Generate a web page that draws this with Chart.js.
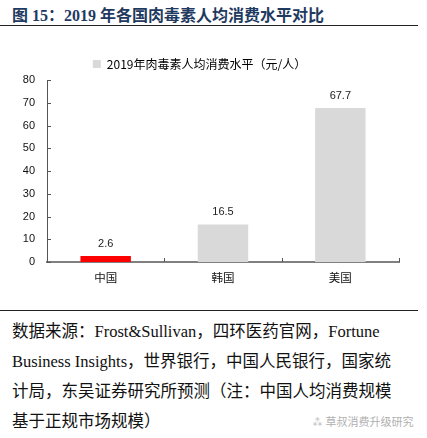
<!DOCTYPE html>
<html>
<head>
<meta charset="utf-8">
<script src="https://cdn.jsdelivr.net/npm/chart.js@4"></script>
<style>
  body { margin: 0; background: #fff; width: 427px; height: 438px; position: relative; overflow: hidden; }
  #title { position: absolute; left: 12px; top: 2px; font: bold 16px "Liberation Serif", "Noto Sans CJK SC", serif; color: #1f3a60; white-space: nowrap; }
  .rule { position: absolute; left: 0; width: 418px; height: 0; border-top: 1.5px solid #222; }
  #box { position: absolute; left: 0; top: 40px; width: 420px; height: 250px; }
  #source { position: absolute; left: 12px; top: 317px; font: 16.5px "Liberation Serif", "Noto Sans CJK SC", serif; line-height: 30px; color: #111; white-space: nowrap; }
  #mark { position: absolute; left: 312px; top: 413px; font: 11px "Noto Sans CJK SC", sans-serif; color: #b0b0b0; }
</style>
</head>
<body>
<div id="title">图 15：2019 年各国肉毒素人均消费水平对比</div>
<div class="rule" style="top:25px"></div>
<div id="box"><canvas id="salesChart"></canvas></div>
<div class="rule" style="top:310px"></div>
<div id="source">数据来源：Frost&amp;Sullivan，四环医药官网，Fortune<br>Business Insights，世界银行，中国人民银行，国家统<br>计局，东吴证券研究所预测（注：中国人均消费规模<br>基于正规市场规模）</div>
<div id="mark">⁂ 草叔消费升级研究</div>
<script>
const countries = ['中国', '韩国', '美国'];
const spendPerCapita = [2.6, 16.5, 67.7];
const barColors = ['#ff0000', '#d9d9d9', '#d9d9d9'];
const seriesName = '2019年肉毒素人均消费水平（元/人）';
const yTicks = [0, 10, 20, 30, 40, 50, 60, 70, 80];

// value labels over the bars
const valueLabels = {
  id: 'valueLabels',
  afterDatasetsDraw(chart) {
    const ctx = chart.ctx;
    const meta = chart.getDatasetMeta(0);
    ctx.save();
    ctx.font = '11px "Liberation Sans", Arial, sans-serif';
    ctx.fillStyle = '#222';
    ctx.textAlign = 'center';
    ctx.textBaseline = 'bottom';
    meta.data.forEach((bar, i) => {
      ctx.fillText(spendPerCapita[i].toFixed(1), bar.x, bar.y - 7);
    });
    ctx.restore();
  }
};

// small tick marks pointing into the plot
const innerTicks = {
  id: 'innerTicks',
  afterDraw(chart) {
    const ctx = chart.ctx;
    const x = chart.scales.x, y = chart.scales.y;
    ctx.save();
    ctx.strokeStyle = '#555';
    ctx.lineWidth = 1;
    ctx.beginPath();
    yTicks.forEach(v => {
      const py = Math.round(y.getPixelForValue(v)) + 0.5;
      ctx.moveTo(x.left, py);
      ctx.lineTo(x.left + 4, py);
    });
    for (let i = 1; i <= countries.length; i++) {
      const px = Math.round(x.getPixelForValue(i - 0.5)) + 0.5;
      ctx.moveTo(px, y.bottom);
      ctx.lineTo(px, y.bottom - 4);
    }
    ctx.stroke();
    ctx.restore();
  }
};

new Chart(document.getElementById('salesChart'), {
  type: 'bar',
  data: {
    labels: countries,
    datasets: [{
      label: seriesName,
      data: spendPerCapita,
      backgroundColor: barColors,
      barPercentage: 0.43,
      categoryPercentage: 1
    }]
  },
  options: {
    responsive: true,
    maintainAspectRatio: false,
    animation: false,
    layout: { padding: { left: 0, right: 21, top: 0, bottom: 0 } },
    plugins: {
      tooltip: { enabled: false },
      legend: {
        position: 'top',
        labels: {
          boxWidth: 8,
          boxHeight: 8,
          padding: 18,
          color: '#222',
          font: { size: 12, family: '"Noto Sans CJK SC", sans-serif' },
          generateLabels: () => [{ text: seriesName, fillStyle: '#d9d9d9', strokeStyle: '#d9d9d9', lineWidth: 0 }]
        },
        onClick: null
      }
    },
    scales: {
      x: {
        grid: { display: false, drawTicks: false },
        border: { display: true, color: '#808080', width: 2 },
        ticks: { color: '#111', padding: 9, font: { size: 11.5, family: '"Noto Sans CJK SC", sans-serif' } },
        afterFit(scale) { scale.height = 28; }
      },
      y: {
        min: 0,
        max: 80,
        grid: { display: false, drawTicks: false },
        border: { display: true, color: '#555', width: 1 },
        ticks: { stepSize: 10, color: '#111', padding: 12, font: { size: 11, family: '"Liberation Sans", Arial, sans-serif' } },
        afterFit(scale) { scale.width = 47; }
      }
    }
  },
  plugins: [valueLabels, innerTicks]
});
</script>
</body>
</html>
